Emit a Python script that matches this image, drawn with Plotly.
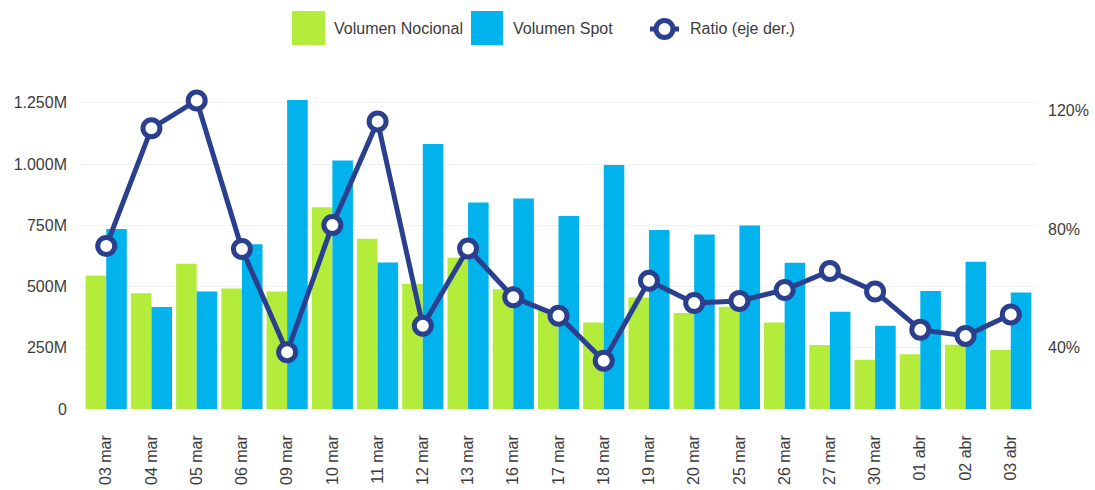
import plotly.graph_objects as go

categories = ["03 mar", "04 mar", "05 mar", "06 mar", "09 mar", "10 mar", "11 mar",
              "12 mar", "13 mar", "16 mar", "17 mar", "18 mar", "19 mar", "20 mar",
              "25 mar", "26 mar", "27 mar", "30 mar", "01 abr", "02 abr", "03 abr"]
volumen_nocional = [545, 473, 593, 492, 480, 824, 695, 511, 617, 489, 405,
                    353, 455, 392, 417, 353, 261, 201, 223, 262, 242]
volumen_spot = [735, 416, 480, 673, 1261, 1014, 598, 1082, 843, 859, 788,
                996, 731, 712, 749, 597, 397, 340, 482, 601, 476]
ratio = [74.3, 114.0, 123.4, 73.3, 38.5, 81.4, 116.3, 47.4, 73.5, 57.0, 50.8,
         35.6, 62.6, 55.1, 55.8, 59.5, 65.9, 59.0, 46.1, 44.0, 51.2]

left_tickvals = [0, 250, 500, 750, 1000, 1250]
left_ticktext = ["0", "250M", "500M", "750M", "1.000M", "1.250M"]
right_tickvals = [40, 80, 120]
right_ticktext = ["40%", "80%", "120%"]

GREEN = "#B3EC3B"
BLUE = "#00B3EC"
NAVY = "#2A3F8E"
TEXT = "#3c3c3c"
FONT = "Liberation Sans, Arial, sans-serif"

W, H = 1095, 490
ML, MR, MT, MB = 80, 58, 80, 81

fig = go.Figure()
fig.add_trace(go.Bar(x=categories, y=volumen_nocional, name="Volumen Nocional",
                     marker=dict(color=GREEN, line=dict(width=0)), showlegend=False))
fig.add_trace(go.Bar(x=categories, y=volumen_spot, name="Volumen Spot",
                     marker=dict(color=BLUE, line=dict(width=0)), showlegend=False))
fig.add_trace(go.Scatter(x=categories, y=ratio, name="Ratio (eje der.)", yaxis="y2",
                         mode="lines+markers",
                         line=dict(color=NAVY, width=5),
                         marker=dict(symbol="circle", size=17, color="white",
                                     line=dict(color=NAVY, width=5)),
                         showlegend=False))

pw = W - ML - MR
ph = H - MT - MB


def px_x(x):
    return (x - ML) / pw


def px_y(y):
    return (H - MB - y) / ph


shapes = []
annotations = []
# custom legend
legend_items = [
    (GREEN, 292, 325, "Volumen Nocional", 332),
    (BLUE, 471, 503, "Volumen Spot", 511),
]
for col, x0, x1, label, tx in legend_items:
    shapes.append(dict(type="rect", xref="paper", yref="paper",
                       x0=px_x(x0), x1=px_x(x1), y0=px_y(45), y1=px_y(11),
                       fillcolor=col, line=dict(width=0)))
    annotations.append(dict(text=label, xref="paper", yref="paper",
                            x=px_x(tx), y=px_y(29), xanchor="left", yanchor="middle",
                            showarrow=False, font=dict(size=16, color=TEXT, family=FONT)))
shapes.append(dict(type="line", xref="paper", yref="paper",
                   x0=px_x(650), x1=px_x(679), y0=px_y(29), y1=px_y(29),
                   line=dict(color=NAVY, width=5)))
shapes.append(dict(type="circle", xref="paper", yref="paper",
                   x0=px_x(664.5 - 8.5), x1=px_x(664.5 + 8.5),
                   y0=px_y(29 + 8.5), y1=px_y(29 - 8.5),
                   fillcolor="white", line=dict(color=NAVY, width=5)))
annotations.append(dict(text="Ratio (eje der.)", xref="paper", yref="paper",
                        x=px_x(688), y=px_y(29), xanchor="left", yanchor="middle",
                        showarrow=False, font=dict(size=16, color=TEXT, family=FONT)))

fig.update_layout(
    width=W, height=H, autosize=False,
    margin=dict(l=ML, r=MR, t=MT, b=MB, pad=0, autoexpand=False),
    paper_bgcolor="white", plot_bgcolor="white",
    font=dict(family=FONT, size=16, color=TEXT),
    barmode="group", bargap=0.09, bargroupgap=0,
    showlegend=False,
    shapes=shapes, annotations=annotations,
    xaxis=dict(type="category", range=[-0.58, 20.58], tickangle=-90,
               showgrid=False, zeroline=False, showline=False, ticks="",
               automargin=False,
               tickfont=dict(size=16, color=TEXT), ticklabelstandoff=22),
    yaxis=dict(range=[0, 1343], tickvals=left_tickvals, ticktext=left_ticktext,
               showgrid=True, gridcolor="#f1f1f1", gridwidth=1, zeroline=False,
               showline=False, ticks="", automargin=False,
               tickfont=dict(size=16, color=TEXT), ticklabelstandoff=12),
    yaxis2=dict(range=[19.34, 130.3], overlaying="y", side="right",
                tickvals=right_tickvals, ticktext=right_ticktext,
                showgrid=False, zeroline=False, showline=False, ticks="",
                automargin=False,
                tickfont=dict(size=16, color=TEXT), ticklabelstandoff=10),
)

fig.write_html("out.html",
               config={"displayModeBar": False},
               post_script="document.body.style.margin='0px';document.body.style.overflow='hidden';")
